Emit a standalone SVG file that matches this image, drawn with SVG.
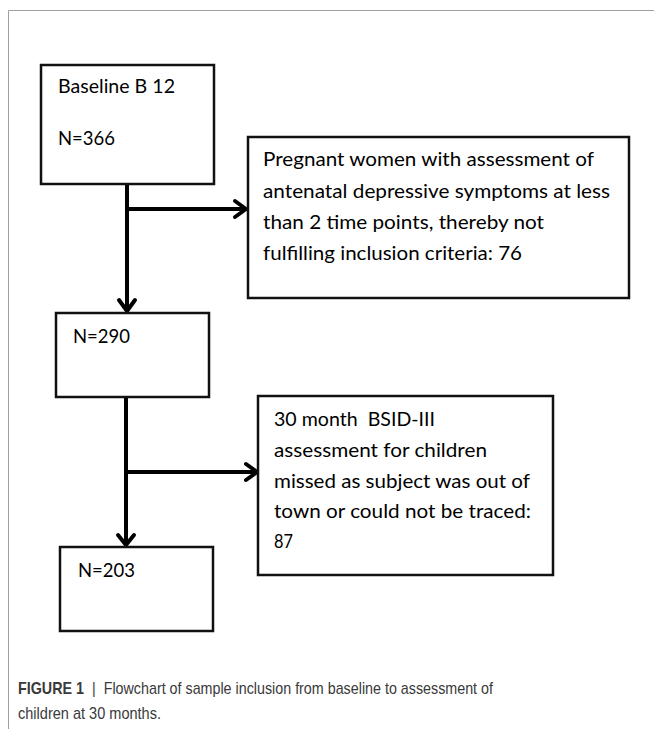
<svg xmlns="http://www.w3.org/2000/svg" width="654" height="729" viewBox="0 0 654 729">
<style>
.box{fill:#fff;stroke:#111;stroke-width:2.5}
.t{font-family:Lato,"Open Sans","Liberation Sans",sans-serif;font-size:19px;fill:#000}
.ln{stroke:#000;stroke-width:4;fill:none}
.ah{stroke:#000;stroke-width:4;fill:none;stroke-linecap:round;stroke-linejoin:round}
.cap{font-family:"Liberation Sans Narrow","Liberation Sans",Arial,sans-serif;font-size:17px;fill:#3a3a3a}
.frame{stroke:#a0a0a0;stroke-width:1;fill:none}
</style>
<path class="frame" d="M8.5,729 V10.5 H654"/>
<g id="connectors">
<line class="ln" x1="127" y1="184" x2="127" y2="310"/>
<line class="ln" x1="127" y1="209" x2="245" y2="209"/>
<polyline class="ah" points="235,201 246,209 235,217"/>
<polyline class="ah" points="119,300 127,311 135,300"/>
<line class="ln" x1="126" y1="397" x2="126" y2="544"/>
<line class="ln" x1="126" y1="472" x2="256" y2="472"/>
<polyline class="ah" points="246,464 257,472 246,480"/>
<polyline class="ah" points="118,535 126,545 134,535"/>
</g>
<g id="n1">
<rect class="box" x="41" y="65" width="173" height="119"/>
<text class="t" x="58" y="93" textLength="117" lengthAdjust="spacingAndGlyphs">Baseline B 12</text>
<text class="t" x="58" y="145" textLength="57" lengthAdjust="spacingAndGlyphs">N=366</text>
</g>
<g id="n2">
<rect class="box" x="248" y="137" width="381" height="161"/>
<text class="t" x="263" y="166" textLength="331" lengthAdjust="spacingAndGlyphs">Pregnant women with assessment of</text>
<text class="t" x="263" y="198" textLength="347" lengthAdjust="spacingAndGlyphs">antenatal depressive symptoms at less</text>
<text class="t" x="263" y="229" textLength="281" lengthAdjust="spacingAndGlyphs">than 2 time points, thereby not</text>
<text class="t" x="263" y="260" textLength="259" lengthAdjust="spacingAndGlyphs">fulfilling inclusion criteria: 76</text>
</g>
<g id="n3">
<rect class="box" x="56" y="313" width="153" height="84"/>
<text class="t" x="73" y="343" textLength="57" lengthAdjust="spacingAndGlyphs">N=290</text>
</g>
<g id="n4">
<rect class="box" x="258" y="396" width="295" height="179"/>
<text class="t" x="274" y="426" textLength="161" lengthAdjust="spacingAndGlyphs" xml:space="preserve">30 month  BSID-III</text>
<text class="t" x="274" y="457" textLength="213" lengthAdjust="spacingAndGlyphs">assessment for children</text>
<text class="t" x="274" y="488" textLength="256" lengthAdjust="spacingAndGlyphs">missed as subject was out of</text>
<text class="t" x="274" y="518" textLength="257" lengthAdjust="spacingAndGlyphs">town or could not be traced:</text>
<text class="t" x="274" y="548" textLength="19" lengthAdjust="spacingAndGlyphs">87</text>
</g>
<g id="n5">
<rect class="box" x="60" y="547" width="153" height="84"/>
<text class="t" x="78" y="577" textLength="57" lengthAdjust="spacingAndGlyphs">N=203</text>
</g>
<g id="caption">
<text class="cap" x="18" y="694" font-weight="bold" fill="#222" textLength="66" lengthAdjust="spacingAndGlyphs">FIGURE 1</text>
<text class="cap" x="92" y="694" textLength="401" lengthAdjust="spacingAndGlyphs" xml:space="preserve">|  Flowchart of sample inclusion from baseline to assessment of</text>
<text class="cap" x="18" y="719" textLength="143" lengthAdjust="spacingAndGlyphs">children at 30 months.</text>
</g>
</svg>
